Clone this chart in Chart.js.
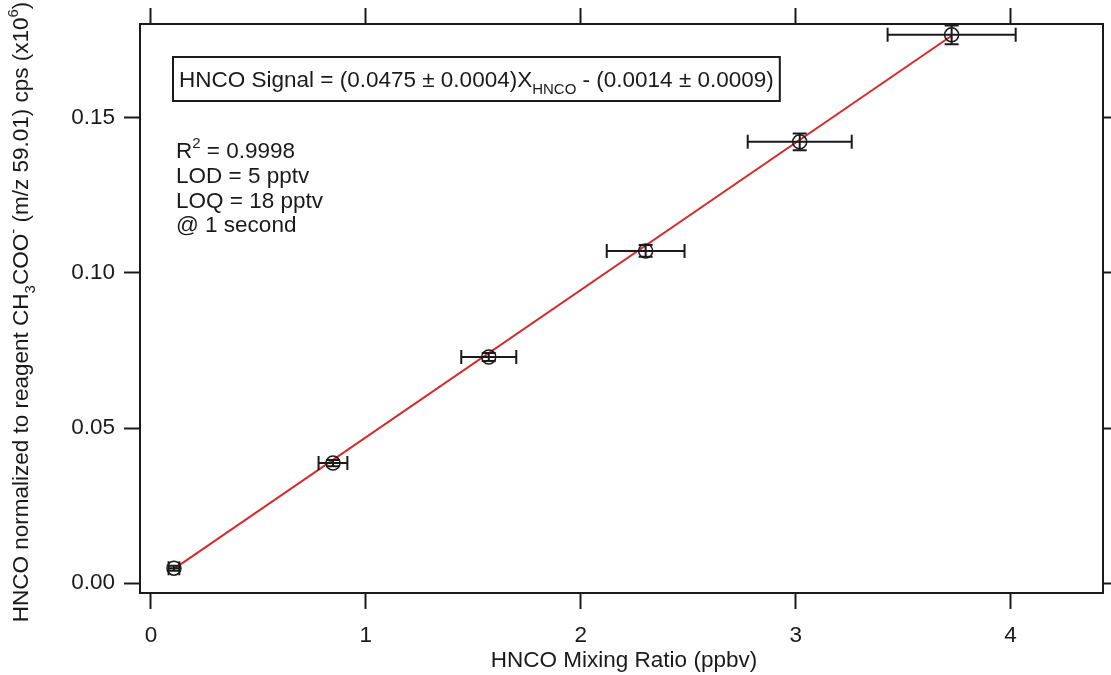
<!DOCTYPE html>
<html>
<head>
<meta charset="utf-8">
<script src="https://cdn.jsdelivr.net/npm/chart.js@4/dist/chart.umd.min.js"></script>
<style>
  html, body { margin: 0; padding: 0; background: #fff; }
  #wrap { width: 1111px; height: 675px; position: relative; }
</style>
</head>
<body>
<div id="wrap"><canvas id="chart1"></canvas></div>
<script>
// calibration points
const mixRatio = [0.107, 0.847, 1.572, 2.302, 3.019, 3.726];
const signal = [0.0048, 0.0387, 0.0729, 0.1071, 0.1423, 0.1768];
const mixErr = [0.025, 0.067, 0.128, 0.181, 0.242, 0.298];
const signalErr = [0.0008, 0.0010, 0.0013, 0.0019, 0.0027, 0.0030];

// linear fit drawn between the two end points
const fitX = [0.107, 3.726];
const fitY = [0.0046, 0.1765];

const xTicks = [0, 1, 2, 3, 4];
const yTicks = [0.00, 0.05, 0.10, 0.15];

const fitText = ['HNCO Signal = (0.0475 \u00b1 0.0004)X', 'HNCO', ' - (0.0014 \u00b1 0.0009)'];
const statLines = ['LOD = 5 pptv', 'LOQ = 18 pptv', '@ 1 second'];

const FONT = '"Liberation Sans", Arial, sans-serif';
const INK = '#1a1a1a';
const FS = 22.5;
const X_MIN = -0.051, X_MAX = 4.428;

const errorBars = {
  id: 'errorBars',
  afterDatasetsDraw(chart) {
    const ctx = chart.ctx;
    const xs = chart.scales.x, ys = chart.scales.y;
    const cap = 7;
    ctx.save();
    ctx.strokeStyle = INK;
    ctx.lineWidth = 2;
    mixRatio.forEach((mx, i) => {
      const px = xs.getPixelForValue(mx);
      const py = ys.getPixelForValue(signal[i]);
      const xl = xs.getPixelForValue(mx - mixErr[i]);
      const xr = xs.getPixelForValue(mx + mixErr[i]);
      const yt = ys.getPixelForValue(signal[i] + signalErr[i]);
      const yb = ys.getPixelForValue(signal[i] - signalErr[i]);
      ctx.beginPath();
      ctx.moveTo(xl, py); ctx.lineTo(xr, py);
      ctx.moveTo(xl, py - cap); ctx.lineTo(xl, py + cap);
      ctx.moveTo(xr, py - cap); ctx.lineTo(xr, py + cap);
      ctx.moveTo(px, yt); ctx.lineTo(px, yb);
      ctx.moveTo(px - cap, yt); ctx.lineTo(px + cap, yt);
      ctx.moveTo(px - cap, yb); ctx.lineTo(px + cap, yb);
      ctx.stroke();
    });
    ctx.restore();
  }
};

// text pieces with sub / superscripts
function richText(ctx, parts, x, y, size) {
  let cx = x;
  parts.forEach(p => {
    const s = p.script ? Math.round(size * 0.68) : size;
    ctx.font = s + 'px ' + FONT;
    let dy = 0;
    if (p.script === 'sub') dy = size * 0.3;
    if (p.script === 'sup') dy = -size * 0.45;
    ctx.fillText(p.t, cx, y + dy);
    cx += ctx.measureText(p.t).width;
  });
  return cx - x;
}

function richWidth(ctx, parts, size) {
  let w = 0;
  parts.forEach(p => {
    const s = p.script ? Math.round(size * 0.68) : size;
    ctx.font = s + 'px ' + FONT;
    w += ctx.measureText(p.t).width;
  });
  return w;
}

const annotations = {
  id: 'annotations',
  afterDraw(chart) {
    const ctx = chart.ctx;
    const area = chart.chartArea;
    ctx.save();
    ctx.fillStyle = INK;
    ctx.textBaseline = 'alphabetic';
    ctx.textAlign = 'left';

    // fit equation box
    const eq = [{ t: fitText[0] }, { t: fitText[1], script: 'sub' }, { t: fitText[2] }];
    const bx = 173, by = 57;
    const w = richWidth(ctx, eq, FS);
    ctx.fillStyle = '#fff';
    ctx.fillRect(bx, by, w + 12, 44);
    ctx.strokeStyle = INK;
    ctx.lineWidth = 2;
    ctx.strokeRect(bx, by, w + 12, 44);
    ctx.fillStyle = INK;
    richText(ctx, eq, bx + 6, by + 30, FS);

    // fit statistics
    richText(ctx, [{ t: 'R' }, { t: '2', script: 'sup' }, { t: ' = 0.9998' }], 176, 158, FS);
    statLines.forEach((s, i) => {
      ctx.font = FS + 'px ' + FONT;
      ctx.fillText(s, 176, 183 + i * 24.5);
    });

    // x axis title
    ctx.font = FS + 'px ' + FONT;
    ctx.textAlign = 'center';
    ctx.fillText('HNCO Mixing Ratio (ppbv)', 624, 667);

    // y axis title, rotated
    const yt = [
      { t: 'HNCO normalized to reagent CH' }, { t: '3', script: 'sub' },
      { t: 'COO' }, { t: '-', script: 'sup' },
      { t: ' (m/z 59.01) cps (x10' }, { t: '6', script: 'sup' }, { t: ')' }
    ];
    ctx.textAlign = 'left';
    const yw = richWidth(ctx, yt, FS);
    ctx.translate(28, 312);
    ctx.rotate(-Math.PI / 2);
    richText(ctx, yt, -yw / 2, 0, FS);
    ctx.restore();
  }
};

const tickFont = { family: FONT, size: FS };
const frame = { display: true, color: INK, width: 2 };
const gridTicks = { display: true, drawOnChartArea: false, drawTicks: true, tickLength: 16, tickWidth: 2, tickColor: INK };

// fixed axis sizes so the frame lands where the reference has it
function fixX(h) {
  return s => { s.height = h; s.paddingLeft = 0; s.paddingRight = 0; };
}
function fixY(w) {
  return s => { s.width = w; s.paddingTop = 0; s.paddingBottom = 0; };
}

const chartCanvas = document.getElementById('chart1');
const chart1 = new Chart(chartCanvas.getContext('2d'), {
  data: {
    datasets: [
      {
        type: 'line',
        data: fitX.map((x, i) => ({ x: x, y: fitY[i] })),
        borderColor: '#d42a2a',
        borderWidth: 2,
        pointRadius: 0,
        fill: false,
        order: 2
      },
      {
        type: 'scatter',
        data: mixRatio.map((x, i) => ({ x: x, y: signal[i] })),
        pointStyle: 'circle',
        pointRadius: 7,
        borderColor: INK,
        borderWidth: 1.5,
        backgroundColor: 'rgba(0,0,0,0)',
        order: 1
      }
    ]
  },
  options: {
    responsive: true,
    maintainAspectRatio: false,
    animation: false,
    layout: { padding: 0 },
    plugins: { legend: { display: false }, tooltip: { enabled: false } },
    scales: {
      x: {
        type: 'linear', position: 'bottom', min: X_MIN, max: X_MAX,
        afterFit: fixX(82),
        afterBuildTicks: s => { s.ticks = xTicks.map(v => ({ value: v })); },
        border: frame, grid: gridTicks,
        ticks: { font: tickFont, color: INK, padding: 13, maxRotation: 0, callback: v => String(v) }
      },
      x2: {
        type: 'linear', position: 'top', min: X_MIN, max: X_MAX,
        afterFit: fixX(24),
        afterBuildTicks: s => { s.ticks = xTicks.map(v => ({ value: v })); },
        border: frame, grid: gridTicks,
        ticks: { display: false }
      },
      y: {
        type: 'linear', position: 'left', min: -0.0032, max: 0.1803,
        afterFit: fixY(140),
        afterBuildTicks: s => { s.ticks = yTicks.map(v => ({ value: v })); },
        border: frame, grid: gridTicks,
        ticks: { font: tickFont, color: INK, padding: 9, callback: v => v.toFixed(2) }
      },
      y2: {
        type: 'linear', position: 'right', min: -0.0032, max: 0.1803,
        afterFit: fixY(4),
        afterBuildTicks: s => { s.ticks = yTicks.map(v => ({ value: v })); },
        border: frame, grid: gridTicks,
        ticks: { display: false }
      }
    }
  },
  plugins: [errorBars, annotations]
});
</script>
</body>
</html>
